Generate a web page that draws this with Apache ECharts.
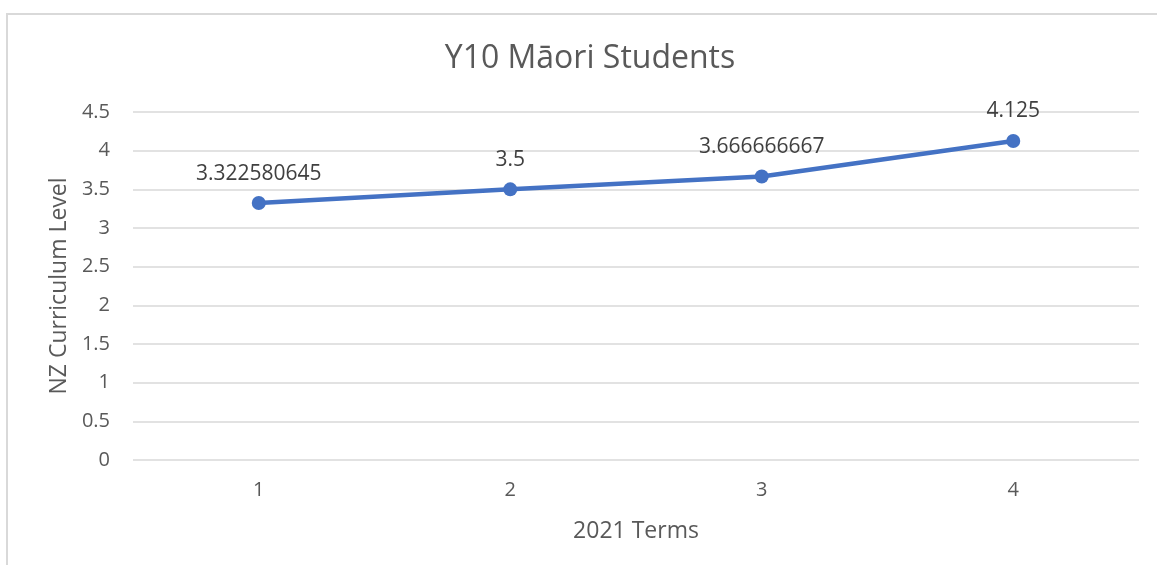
<!DOCTYPE html>
<html>
<head>
<meta charset="utf-8">
<title>Y10 Māori Students</title>
<script src="https://cdn.jsdelivr.net/npm/echarts@6/dist/echarts.min.js"></script>
<style>
html, body { margin: 0; padding: 0; background: #fff; }
#chart { width: 1157px; height: 565px; }
</style>
</head>
<body>
<div id="chart"></div>
<script>
// data
var terms = ['1', '2', '3', '4']
var levels = [3.322580645, 3.5, 3.666666667, 4.125]
var yTicks = { min: 0, max: 4.5, interval: 0.5 }

var textColor = '#595959'
var fontFamily = '"Open Sans", "Noto Sans", sans-serif'

var chart = echarts.init(document.getElementById('chart'))

chart.setOption({
    backgroundColor: '#fff',
    textStyle: { fontFamily: fontFamily },
    animation: false,
    graphic: [{
        type: 'rect',
        shape: { x: 7, y: 14, width: 1200, height: 600 },
        style: { fill: 'none', stroke: '#d9d9d9', lineWidth: 2 },
        silent: true
    }],
    title: {
        text: 'Y10 Māori Students',
        left: 585,
        textAlign: 'center',
        top: 38,
        textStyle: { fontSize: 32, fontWeight: 'normal', color: textColor, fontFamily: fontFamily }
    },
    grid: { left: 133, right: 18, top: 112, bottom: 105 },
    xAxis: {
        type: 'category',
        data: terms,
        name: '2021 Terms',
        nameLocation: 'middle',
        nameGap: 60,
        nameTextStyle: { fontSize: 23, color: textColor },
        axisLine: { show: false },
        axisTick: { show: false },
        axisLabel: { fontSize: 20, color: textColor, margin: 20 }
    },
    yAxis: {
        type: 'value',
        min: yTicks.min,
        max: yTicks.max,
        interval: yTicks.interval,
        name: 'NZ Curriculum Level',
        nameLocation: 'middle',
        nameGap: 60,
        nameTextStyle: { fontSize: 23, color: textColor },
        axisLine: { show: false },
        axisTick: { show: false },
        axisLabel: { fontSize: 20, color: textColor, margin: 23 },
        splitLine: { lineStyle: { color: '#d9d9d9', width: 1.5 } }
    },
    series: [{
        type: 'line',
        data: levels,
        symbol: 'circle',
        symbolSize: 14,
        lineStyle: { color: '#4472C4', width: 4.5 },
        itemStyle: { color: '#4472C4' },
        label: {
            show: true,
            position: 'top',
            distance: 12,
            fontSize: 21,
            color: '#404040'
        }
    }]
})
</script>
</body>
</html>
